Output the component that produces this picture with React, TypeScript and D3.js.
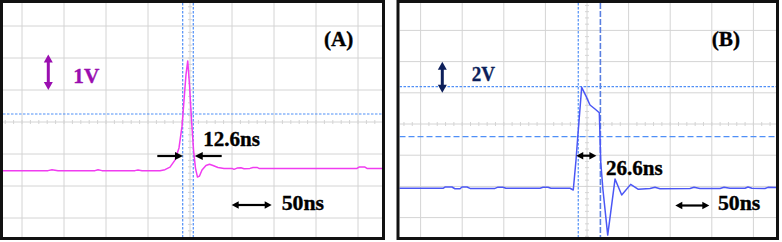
import React, { useEffect } from "react";
import * as d3 from "d3";

// ---------- Data (time in ns relative to screen centre, voltage in V relative to screen centre) ----------
const A_TIME = [-222.6, -190.5, -169, -164.3, -157.1, -113.1, -109.5, -104.8, -65.5, -61.9, -57.1, -35.7, -29.8, -23.8, -17.9, -13.1, -9.5, -7.1, -4.8, -2.7, -0.6, 1.8, 4.2, 6.5, 8.9, 11.3, 14.3, 19.0, 23.2, 27.4, 33.3, 40.5, 50, 52.4, 56, 60.7, 64.3, 71.4, 75, 79.8, 82.1, 119, 198.8, 201.2, 208.3, 210.7, 232.1];
const A_VOLT = [-1.52, -1.52, -1.52, -1.49, -1.52, -1.52, -1.49, -1.52, -1.52, -1.50, -1.52, -1.52, -1.49, -1.41, -1.19, -0.81, -0.13, 0.69, 1.47, 1.91, 1.16, 0.06, -0.88, -1.44, -1.72, -1.69, -1.50, -1.36, -1.32, -1.36, -1.42, -1.45, -1.45, -1.48, -1.44, -1.43, -1.46, -1.45, -1.42, -1.42, -1.45, -1.45, -1.45, -1.41, -1.41, -1.45, -1.45];

const B_TIME = [-226, -173.1, -170.7, -162.3, -158.7, -152.6, -150.2, -144.2, -140.6, -110.6, -107, -101, -97.4, -56.5, -52.9, -46.9, -43.3, -20.4, -16.5, -13.2, -11.4, -6.4, -1.2, 3.6, 9.6, 14.8, 16.5, 19.2, 24.9, 33.7, 41.7, 52.5, 61.7, 75.7, 81.7, 87.7, 123.8, 128.6, 135.8, 159.9, 164.7, 171.9, 189.9, 193.5, 198.3, 213.9, 217.5, 227.2];
const B_VOLT = [-4.12, -4.12, -4.04, -4.04, -4.15, -4.15, -4.04, -4.04, -4.13, -4.13, -4.05, -4.05, -4.12, -4.12, -4.06, -4.06, -4.12, -4.12, -4.23, -2.31, -1.03, 2.35, 1.79, 1.22, 0.96, 0.72, -2.42, -4.23, -7.12, -3.53, -4.55, -3.87, -4.19, -4.13, -4.06, -4.15, -4.13, -4.06, -4.13, -4.13, -4.05, -4.12, -4.12, -4.04, -4.12, -4.13, -4.06, -4.07];

const TIME_GRID = [-200, -150, -100, -50, 0, 50, 100, 150, 200];
const A_VOLT_GRID = [-3, -2, -1, 0, 1, 2, 3];
const B_VOLT_GRID = [-6, -4, -2, 0, 2, 4, 6];

const A_CURSOR_T = [-8.7, 3.9];
const A_CURSOR_V = [0.25];
const B_CURSOR_T = [-10.5, 16.1];
const B_CURSOR_V = [2.39, -0.81];

const LABELS = { a: "(A)", b: "(B)", aScale: "1V", bScale: "2V", aWidth: "12.6ns", bWidth: "26.6ns", time: "50ns" };

// ---------- Scales ----------
const xA = d3.scaleLinear().domain([-200, 200]).range([22, 358]);
const yA = d3.scaleLinear().domain([-3, 3]).range([218, 26]);
const xB = d3.scaleLinear().domain([-200, 200]).range([420.6, 753.4]);
const yB = d3.scaleLinear().domain([-6, 6]).range([217.6, 30.4]);

const GRID = "#d4d4d4";
const CURSOR = "#4f8ff7";
const FONT = "Liberation Serif";

function Arrow({ x1, y1, x2, y2, color, w = 2, hl = 7, hw = 3.5, both = false }: any) {
  const ang = Math.atan2(y2 - y1, x2 - x1);
  const head = (tx: number, ty: number, a: number) => {
    const bx = tx - hl * Math.cos(a), by = ty - hl * Math.sin(a);
    const px = -Math.sin(a) * hw, py = Math.cos(a) * hw;
    return `${tx},${ty} ${bx + px},${by + py} ${bx - px},${by - py}`;
  };
  const sx = both ? x1 + (hl - 1) * Math.cos(ang) : x1;
  const sy = both ? y1 + (hl - 1) * Math.sin(ang) : y1;
  const ex = x2 - (hl - 1) * Math.cos(ang), ey = y2 - (hl - 1) * Math.sin(ang);
  return (
    <g>
      <line x1={sx} y1={sy} x2={ex} y2={ey} stroke={color} strokeWidth={w} />
      <polygon points={head(x2, y2, ang)} fill={color} />
      {both && <polygon points={head(x1, y1, ang + Math.PI)} fill={color} />}
    </g>
  );
}

function Grid({ xs, ys, tg, vg, x0, x1, y0, y1 }: any) {
  const cx = xs(0), cy = ys(0);
  const dx = (xs(50) - xs(0)) / 5;
  const dy = (ys(vg[3]) - ys(vg[4])) / 5;
  const xt = d3.range(-60, 61).map((i) => cx + i * dx).filter((v) => v > x0 && v < x1);
  const yt = d3.range(-40, 41).map((i) => cy + i * dy).filter((v) => v > y0 && v < y1);
  return (
    <g>
      {tg.map((t: number) => (
        <line key={"v" + t} x1={xs(t)} x2={xs(t)} y1={y0} y2={y1} stroke={GRID} strokeWidth={1} />
      ))}
      {vg.map((v: number) => (
        <line key={"h" + v} x1={x0} x2={x1} y1={ys(v)} y2={ys(v)} stroke={GRID} strokeWidth={1} />
      ))}
      {xt.map((x, i) => (
        <line key={"xt" + i} x1={x} x2={x} y1={cy - 2} y2={cy + 2} stroke={GRID} strokeWidth={1} />
      ))}
      {yt.map((y, i) => (
        <line key={"yt" + i} x1={cx - 2} x2={cx + 2} y1={y} y2={y} stroke={GRID} strokeWidth={1} />
      ))}
    </g>
  );
}

const T = ({ x, y, w, size = 20, fill = "#000", children }: any) => (
  <text x={x} y={y} style={{ fontFamily: FONT, fontWeight: 700, fontSize: size }} fill={fill} stroke={fill} strokeWidth={0.35} textLength={w} lengthAdjust="spacingAndGlyphs">{children}</text>
);

export default function App() {
  useEffect(() => {
    document.body.style.margin = "0";
  }, []);

  const lineA = d3.line<number>().x((_, i) => xA(A_TIME[i])).y((v) => yA(v));
  const lineB = d3.line<number>().x((_, i) => xB(B_TIME[i])).y((v) => yB(v));

  const A = { x0: 3, x1: 382, y0: 3, y1: 237 };
  const B = { x0: 399.5, x1: 776.5, y0: 3, y1: 237 };

  return (
    <svg width={782} height={242} style={{ position: "absolute", left: 0, top: 0, background: "#fff" }}>
      <defs>
        <clipPath id="clipA"><rect x={A.x0} y={A.y0} width={A.x1 - A.x0} height={A.y1 - A.y0} /></clipPath>
        <clipPath id="clipB"><rect x={B.x0} y={B.y0} width={B.x1 - B.x0} height={B.y1 - B.y0} /></clipPath>
      </defs>
      <rect width={782} height={242} fill="#fff" />

      {/* Panel A */}
      <g clipPath="url(#clipA)">
        <Grid xs={xA} ys={yA} tg={TIME_GRID} vg={A_VOLT_GRID} {...A} />
        {A_CURSOR_T.map((t) => (
          <line key={t} x1={xA(t)} x2={xA(t)} y1={A.y0} y2={A.y1} stroke={CURSOR} strokeWidth={1.2} strokeDasharray="2.5,1.5" />
        ))}
        {A_CURSOR_V.map((v) => (
          <line key={v} x1={A.x0} x2={A.x1} y1={yA(v)} y2={yA(v)} stroke={CURSOR} strokeWidth={1.2} strokeDasharray="2.5,1.5" />
        ))}
        <path d={lineA(A_VOLT) || ""} fill="none" stroke="#f03cf0" strokeWidth={1.5} strokeLinejoin="round" />
      </g>
      <rect x={1.5} y={1.5} width={382} height={237} fill="none" stroke="#111" strokeWidth={3} />

      <Arrow x1={48.3} y1={54.5} x2={48.3} y2={90} color="#9a0eb0" w={3} hl={8} hw={4.5} both />
      <T x={73.3} y={83.3} w={26} size={21} fill="#9a0eb0">{LABELS.aScale}</T>
      <T x={324} y={46} w={29.3}>{LABELS.a}</T>
      <Arrow x1={157.3} y1={156} x2={xA(A_CURSOR_T[0]) + 0.3} y2={156} color="#000" w={2.2} hl={8} hw={4} />
      <Arrow x1={221.7} y1={156} x2={xA(A_CURSOR_T[1]) + 1.5} y2={156} color="#000" w={2.2} hl={8} hw={4} />
      <T x={203.3} y={145.7} w={56.7}>{LABELS.aWidth}</T>
      <Arrow x1={231.7} y1={205} x2={271.7} y2={205} color="#000" w={2.2} hl={7} hw={3.8} both />
      <T x={281.7} y={210} w={42.3}>{LABELS.time}</T>

      {/* Panel B */}
      <g clipPath="url(#clipB)">
        <Grid xs={xB} ys={yB} tg={TIME_GRID} vg={B_VOLT_GRID} {...B} />
        <line x1={xB(B_CURSOR_T[0])} x2={xB(B_CURSOR_T[0])} y1={B.y0} y2={B.y1} stroke={CURSOR} strokeWidth={1.2} strokeDasharray="2.5,1.5" />
        <line x1={xB(B_CURSOR_T[1])} x2={xB(B_CURSOR_T[1])} y1={B.y0} y2={B.y1} stroke="#5a7fe0" strokeWidth={1.6} strokeDasharray="6,2" />
        <line x1={B.x0} x2={B.x1} y1={yB(B_CURSOR_V[0])} y2={yB(B_CURSOR_V[0])} stroke={CURSOR} strokeWidth={1.2} strokeDasharray="2.5,1.5" />
        <line x1={B.x0} x2={B.x1} y1={yB(B_CURSOR_V[1])} y2={yB(B_CURSOR_V[1])} stroke={CURSOR} strokeWidth={1.2} strokeDasharray="6,3" />
        <path d={lineB(B_VOLT) || ""} fill="none" stroke="#4b57f5" strokeWidth={1.5} strokeLinejoin="round" />
      </g>
      <rect x={398} y={1.5} width={379.5} height={237} fill="none" stroke="#111" strokeWidth={3} />

      <Arrow x1={442.3} y1={61.7} x2={442.3} y2={92.7} color="#0d1f5a" w={3} hl={8} hw={4.5} both />
      <T x={471.7} y={81} w={23.3} size={21} fill="#0d1f5a">{LABELS.bScale}</T>
      <T x={711.7} y={46} w={28.3}>{LABELS.b}</T>
      <Arrow x1={xB(B_CURSOR_T[0]) - 2} y1={155.7} x2={xB(B_CURSOR_T[1]) - 4} y2={155.7} color="#000" w={2.2} hl={7} hw={3.8} both />
      <T x={606} y={175} w={56.7}>{LABELS.bWidth}</T>
      <Arrow x1={675.3} y1={205.5} x2={709.3} y2={205.5} color="#000" w={2.2} hl={7} hw={3.8} both />
      <T x={718} y={210} w={42.3}>{LABELS.time}</T>
    </svg>
  );
}
